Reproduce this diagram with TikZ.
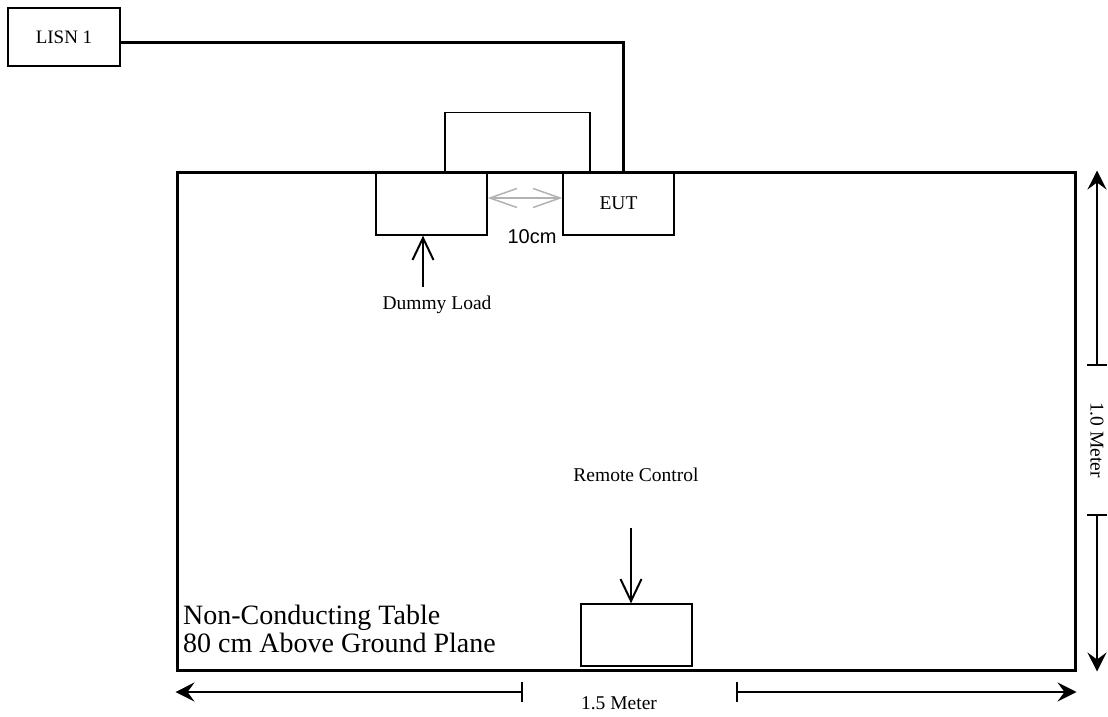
\documentclass[tikz,border=0pt]{standalone}
\usepackage{fontspec}
\setmainfont{Liberation Serif}
\newfontfamily\arialf{Liberation Sans}
\usetikzlibrary{arrows.meta}
\begin{document}
\begin{tikzpicture}[x=1pt,y=-1pt,
  box/.style={draw, line width=1.3pt, inner sep=0pt},
  lbl/.style={font=\fontsize{19.5}{22}\selectfont},
  wire/.style={line width=3pt},
  ptr/.style={line width=1.4pt, -{Straight Barb[length=22pt,width=21pt,line width=2pt]}},
  dimline/.style={line width=1.2pt, -{Stealth[length=19pt,width=19pt,inset=7pt]}},
  tick/.style={line width=1.2pt},
  gap/.style={draw=gray!60, line width=2pt, {Straight Barb[length=27pt,width=19pt,line width=1.5pt]}-{Straight Barb[length=27pt,width=19pt,line width=1.5pt]}}
]
\useasboundingbox (0,0) rectangle (1108,717);

% table
\node[draw, line width=3pt, minimum width=898pt, minimum height=498pt, inner sep=0pt] (table) at (626,421) {};

% boxes
\node[box, minimum width=112pt, minimum height=58pt] (lisn) at (64,37) {\fontsize{19}{22}\selectfont LISN 1};
\node[box, minimum width=111pt, minimum height=63pt] (dummy) at (431.5,203.5) {};
\node[box, minimum width=111pt, minimum height=63pt] (eut) at (618.5,203.5) {\fontsize{19.5}{22}\selectfont EUT};
\node[box, minimum width=111pt, minimum height=62pt] (remote) at (636.5,635) {};

% cable loop between dummy load and EUT
\draw[line width=1.3pt] ([xshift=13.5pt]dummy.north) |- ++(72.5,-59) -| ([xshift=-28.5pt]eut.north);

% power wire from LISN
\draw[wire] ([yshift=-6pt]lisn.east) -| ([xshift=4.5pt]eut.north);

% 10 cm gap
\draw[gap] ([yshift=5.5pt]dummy.east) -- ([yshift=5.5pt]eut.west);
\node[font=\arialf\fontsize{20}{23}\selectfont] (tencm) at (532,237) {10cm};

% dummy load label
\node[lbl] (dltext) at (437,305) {Dummy Load};
\coordinate (dlfoot) at (423,287);
\draw[ptr] (dlfoot) -- (dlfoot |- dummy.south);

% remote control label
\node[lbl] (rctext) at (636,475) {Remote Control};
\coordinate (rctop) at (631,528);
\draw[ptr] (rctop) -- (rctop |- remote.north);

% table text
\node[font=\fontsize{28}{28}\selectfont, align=left, anchor=west, inner sep=0pt] (tbl) at (183,629) {Non-Conducting Table\\80 cm Above Ground Plane};

% bottom dimension
\coordinate (bl) at (522,692);
\coordinate (br) at (737,692);
\draw[dimline] (bl) -- (bl -| table.west);
\draw[dimline] (br) -- (br -| table.east);
\draw[tick] (bl) ++(0,-10) -- ++(0,20);
\draw[tick] (br) ++(0,-10) -- ++(0,20);
\node[lbl] (wlabel) at (619,703) {1.5 Meter};

% right dimension
\coordinate (rt) at (1097,365);
\coordinate (rb) at (1097,515);
\draw[dimline] (rt) -- (rt |- table.north);
\draw[dimline] (rb) -- (rb |- table.south);
\draw[tick] (rt) ++(-10,0) -- ++(20,0);
\draw[tick] (rb) ++(-10,0) -- ++(20,0);
\node[lbl, rotate=-90] (hlabel) at (1097,440) {1.0 Meter};
\end{tikzpicture}
\end{document}
